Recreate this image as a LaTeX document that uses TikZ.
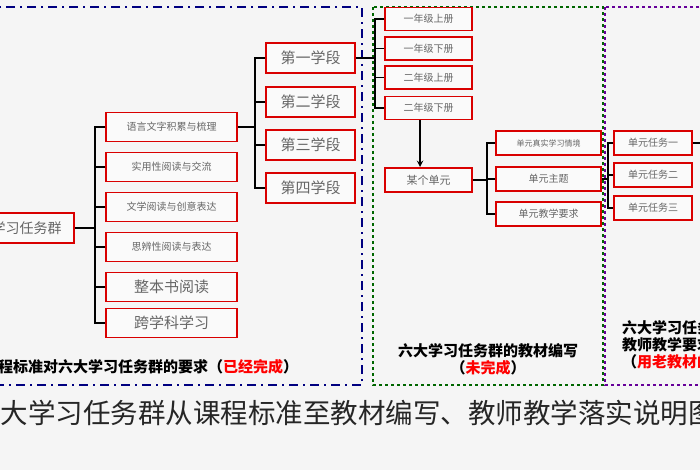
\documentclass[tikz,border=0pt]{standalone}
\usepackage{fontspec}
\setmainfont{Noto Sans CJK SC}
\begin{document}
\begin{tikzpicture}[
    x=1pt, y=-1pt,
    redbox/.style={draw=red!85!black, line width=1.6pt, fill=white!96!gray, text=black!60, inner sep=0pt},
    link/.style={draw=black, line width=1.3pt},
    caption/.style={font=\bfseries\fontsize{15}{17}\selectfont, align=center, inner sep=0pt}
]
    \fill[black!4] (0,0) rectangle (700,470);
    \useasboundingbox (0,0) rectangle (700,470);
    \clip (0,0) rectangle (700,470);
    % three frames
    \draw[blue!50!black, line width=1.8pt, dash pattern=on 9pt off 5pt on 2pt off 5pt] (-5,7) rectangle (362,385);
    \draw[green!40!black, line width=1.5pt, dashed] (373,7) rectangle (603,385);
    \draw[violet!80!blue, line width=1.5pt, dashed] (605,7) rectangle (712,385);
    % curriculum standard
    \node[redbox, font=\fontsize{14}{16}\selectfont, minimum width=95pt, minimum height=30pt, anchor=east] (root) at (75,228) {学习任务群};
    \foreach \name/\txt/\y/\fs in {g1/语言文字积累与梳理/127/10, g2/实用性阅读与交流/167/10,
        g3/文学阅读与创意表达/207/10, g4/思辨性阅读与表达/247/10,
        g5/整本书阅读/287/15, g6/跨学科学习/323/15}
        \node[redbox, font=\fontsize{\fs}{\fs}\selectfont, minimum width=131pt, minimum height=29pt] (\name) at (171.5,\y) {\txt};
    \foreach \name/\txt/\y in {s1/第一学段/58, s2/第二学段/102, s3/第三学段/145, s4/第四学段/188}
        \node[redbox, font=\fontsize{15}{15}\selectfont, minimum width=89pt, minimum height=30pt] (\name) at (310.5,\y) {\txt};
    \draw[link] (root.east) -- (95,228);
    \draw[link] (g1.west) -| (95,228) |- (g6.west);
    \foreach \n in {g2,g3,g4,g5} \draw[link] (95,0 |- \n.west) -- (\n.west);
    \draw[link] (g1.east) -- (255,127);
    \draw[link] (s1.west) -| (255,127) |- (s4.west);
    \foreach \n in {s2,s3} \draw[link] (255,0 |- \n.west) -- (\n.west);
    \node[caption, anchor=west] (capA) at (-2,367) {程标准对六大学习任务群的要求（\textcolor{red}{已经完成}）};
    % textbooks
    \foreach \name/\txt/\y in {b1/一年级上册/19, b2/一年级下册/48.5, b3/二年级上册/77.5, b4/二年级下册/108}
        \node[redbox, font=\fontsize{10}{10}\selectfont, minimum width=87pt, minimum height=23pt] (\name) at (428.5,\y) {\txt};
    \draw[link] (s1.east) -- (375,58);
    \draw[link] (b1.west) -| (375,58) |- (b4.west);
    \foreach \n in {b2,b3} \draw[link] (375,0 |- \n.west) -- (\n.west);
    \node[redbox, font=\fontsize{11}{11}\selectfont, minimum width=87pt, minimum height=24pt] (unit) at (428.5,180) {某个单元};
    \draw[link, ->, >={stealth}, line width=1.8pt] (420,120) -- (420,167);
    \foreach \name/\txt/\y/\fs in {u1/单元真实学习情境/143/8, u2/单元主题/179/10, u3/单元教学要求/214/10}
        \node[redbox, font=\fontsize{\fs}{\fs}\selectfont, minimum width=105pt, minimum height=24pt] (\name) at (548.5,\y) {\txt};
    \draw[link] (unit.east) -- (487,180);
    \draw[link] (u1.west) -| (487,180) |- (u3.west);
    \draw[link] (487,179) -- (u2.west);
    \node[caption] (capB) at (488,359) {六大学习任务群的教材编写\\（\textcolor{red}{未完成}）};
    % teaching
    \foreach \name/\txt/\y in {t1/单元任务一/143, t2/单元任务二/175, t3/单元任务三/208}
        \node[redbox, font=\fontsize{10}{10}\selectfont, minimum width=78pt, minimum height=24pt] (\name) at (653,\y) {\txt};
    \draw[link] (u2.east) -- (608,179);
    \draw[link] (t1.west) -| (608,179) |- (t3.west);
    \draw[link] (608,175) -- (t2.west);
    \draw[link] (t1.east) -- (705,143);
    \node[caption, align=left, anchor=north west] (capC) at (622,320) {六大学习任务群的\\教师教学要求\\（\textcolor{red}{用老教材的}};
    % title strip
    \fill[white!92!gray] (0,390) rectangle (700,470);
    \node[anchor=west, inner sep=0pt, font=\fontsize{27.5}{28}\selectfont, text=black!85] (title) at (-27,413) {六大学习任务群从课程标准至教材编写、教师教学落实说明图};
\end{tikzpicture}
\end{document}
